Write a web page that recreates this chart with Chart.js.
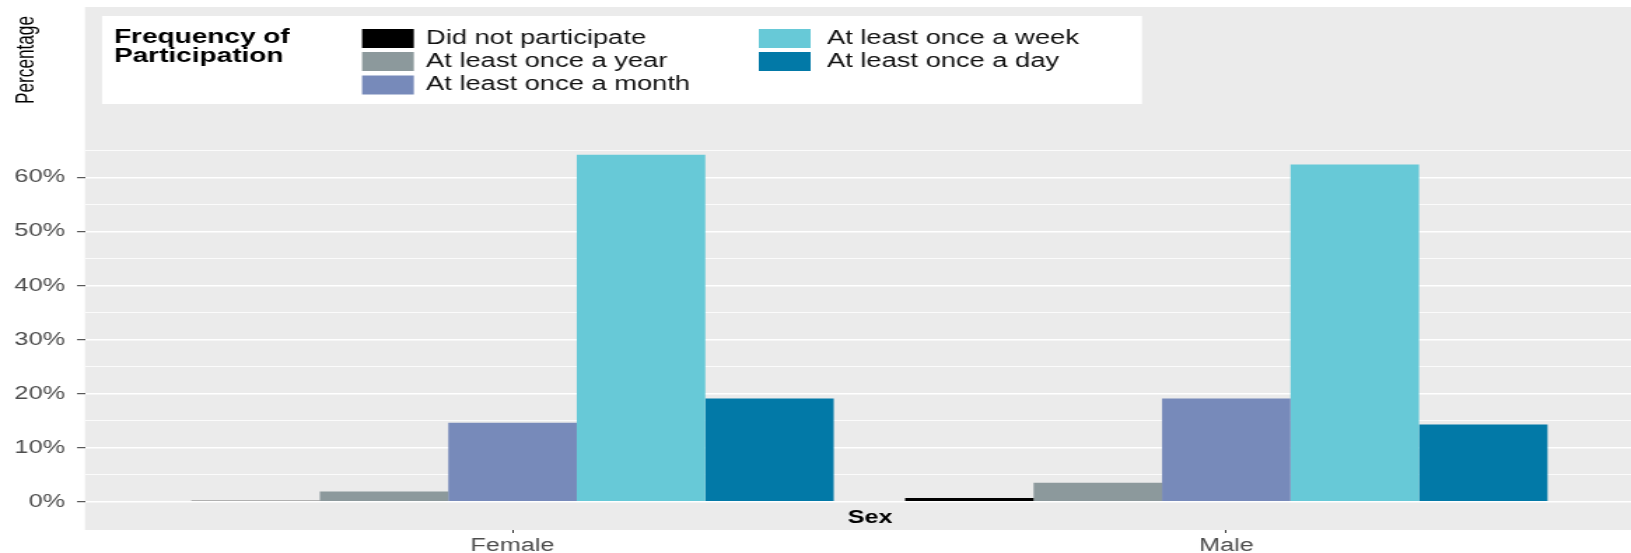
<!DOCTYPE html>
<html>
<head>
<meta charset="utf-8">
<script src="https://cdn.jsdelivr.net/npm/chart.js@4.4.1/dist/chart.umd.min.js"></script>
<style>
  html, body { margin: 0; padding: 0; background: #fff; overflow: hidden; }
  canvas { display: block; }
</style>
</head>
<body>
<!-- drawn at 1165 wide and stretched to 1631, like the (horizontally stretched) original -->
<canvas id="sexChart" width="1165" height="553" style="width:1631px;height:553px"></canvas>
<script>
/* data
---------------------------- */
var categories = ['Female', 'Male'];
var seriesLabels = ['Did not participate', 'At least once a year', 'At least once a month', 'At least once a week', 'At least once a day'];
var didNotParticipate = [0.2, 0.7];
var onceAYear = [1.9, 3.5];
var onceAMonth = [14.6, 19.1];
var onceAWeek = [64.2, 62.4];
var onceADay = [19.1, 14.3];
var yTickLabels = ['0%', '10%', '20%', '30%', '40%', '50%', '60%'];

var seriesColors = ['#000000', '#8C999C', '#778ABA', '#67C9D7', '#0279A7'];
var seriesValues = [didNotParticipate, onceAYear, onceAMonth, onceAWeek, onceADay];

var FONT = '"Liberation Sans", Arial, Helvetica, sans-serif';

function toPoints(values) {
  return categories.map(function (c, i) { return { x: i + 1, y: values[i] }; });
}

/* grey panel behind the plot
---------------------------- */
var panelBackground = {
  id: 'panelBackground',
  beforeDraw: function (chart) {
    var ctx = chart.ctx, a = chart.chartArea;
    ctx.save();
    ctx.fillStyle = '#EBEBEB';
    ctx.fillRect(a.left, a.top, a.right - a.left, a.bottom - a.top);
    ctx.restore();
  }
};

/* legend box, axis titles
---------------------------- */
var extras = {
  id: 'extras',
  afterDraw: function (chart) {
    var ctx = chart.ctx;
    ctx.save();

    // legend box
    ctx.fillStyle = '#FFFFFF';
    ctx.fillRect(72.9, 16, 742.8, 88);

    ctx.fillStyle = '#000';
    ctx.font = 'bold 20px ' + FONT;
    ctx.textAlign = 'left';
    ctx.textBaseline = 'middle';
    ctx.fillText('Frequency of', 81.4, 37.5);
    ctx.fillText('Participation', 81.4, 56);

    var cols = [{ key: 258.6, text: 304.3 }, { key: 542, text: 590.7 }];
    var rows = [38.5, 61.5, 85];
    ctx.font = '19.5px ' + FONT;
    chart.data.datasets.forEach(function (ds, i) {
      var col = cols[Math.floor(i / 3)];
      var y = rows[i % 3];
      ctx.fillStyle = ds.backgroundColor;
      ctx.fillRect(col.key, y - 9.5, 37, 19);
      ctx.fillStyle = '#111';
      ctx.fillText(ds.label, col.text, y);
    });

    // x axis title sits inside the panel
    ctx.font = 'bold 18px ' + FONT;
    ctx.textAlign = 'center';
    ctx.fillStyle = '#000';
    ctx.fillText('Sex', 621.4, 518);

    // y axis title, top left
    ctx.translate(19, 60);
    ctx.rotate(-Math.PI / 2);
    ctx.font = '19px ' + FONT;
    var w = ctx.measureText('Percentage').width;
    ctx.scale(88 / w, 1);
    ctx.fillText('Percentage', 0, 0);

    ctx.restore();
  }
};

var ctx1 = document.getElementById('sexChart');
var sexChart = new Chart(ctx1, {
  type: 'bar',
  data: {
    datasets: seriesLabels.map(function (label, i) {
      return {
        label: label,
        data: toPoints(seriesValues[i]),
        backgroundColor: seriesColors[i],
        borderWidth: 0,
        categoryPercentage: 0.9,
        barPercentage: 1.0
      };
    })
  },
  options: {
    responsive: false,
    animation: false,
    layout: { padding: { top: 7, left: 0, right: 0, bottom: 0 } },
    plugins: {
      legend: { display: false },
      tooltip: { enabled: false }
    },
    scales: {
      x: {
        type: 'linear',
        offset: false,
        min: 0.401,
        max: 2.567,
        afterBuildTicks: function (scale) {
          scale.ticks = categories.map(function (c, i) { return { value: i + 1 }; });
        },
        ticks: {
          autoSkip: false,
          maxRotation: 0,
          padding: 2,
          color: '#4D4D4D',
          font: { family: FONT, size: 18 },
          callback: function (v) { return categories[Math.round(v) - 1]; }
        },
        grid: { offset: false, drawOnChartArea: false, tickLength: 3, tickColor: '#333' },
        border: { display: false },
        afterFit: function (scale) {
          scale.height = 23;
          scale.paddingLeft = 0;
          scale.paddingRight = 0;
        }
      },
      y: {
        min: -5.22,
        max: 91.54,
        afterBuildTicks: function (scale) {
          var t = [];
          for (var v = 0; v <= 65; v += 5) t.push({ value: v });
          scale.ticks = t;
        },
        ticks: {
          autoSkip: false,
          padding: 8.6,
          color: '#4D4D4D',
          font: { family: FONT, size: 18 },
          callback: function (v) { return v % 10 === 0 ? yTickLabels[v / 10] : ''; }
        },
        grid: {
          color: '#FFFFFF',
          lineWidth: function (c) { return c.tick && c.tick.value % 10 === 0 ? 1.4 : 0.8; },
          tickLength: 5.7,
          tickWidth: 1,
          tickColor: function (c) { return c.tick && c.tick.value % 10 === 0 ? '#333' : 'rgba(0,0,0,0)'; }
        },
        border: { display: false },
        afterFit: function (scale) {
          scale.width = 60.7;
          scale.paddingTop = 0;
          scale.paddingBottom = 0;
        }
      }
    }
  },
  plugins: [panelBackground, extras]
});
</script>
</body>
</html>
